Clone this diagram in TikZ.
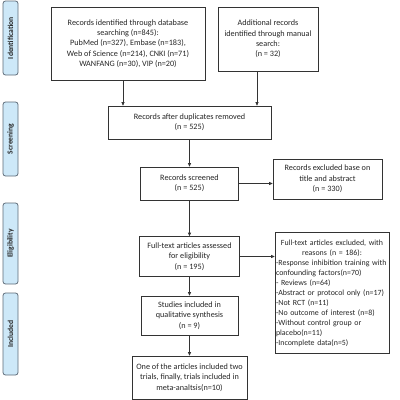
\documentclass[tikz,border=0pt]{standalone}
\usepackage{fontspec}
\setmainfont{Carlito}
\usetikzlibrary{arrows.meta}
\definecolor{sidefill}{HTML}{CDE8F8}
\definecolor{sidedraw}{HTML}{5E6B78}
\definecolor{linec}{HTML}{333333}
\begin{document}
\begin{tikzpicture}[x=1pt,y=-1pt,
  box/.style={draw=linec,line width=0.6pt,fill=white,inner sep=1pt,align=center,font=\fontsize{8.2}{10.3}\selectfont,text=black!85},
  side/.style={draw=sidedraw,fill=sidefill,rounded corners=2.5pt,line width=0.8pt},
  sidetext/.style={rotate=90,font=\bfseries\fontsize{7.6}{8}\selectfont,text=black!85},
  arr/.style={-{Triangle[length=3.5pt,width=3pt]},draw=linec,line width=0.6pt}]
\useasboundingbox (0,0) rectangle (400,400);
% side labels
\draw[side] (3,1) rectangle (18,75);
\node[sidetext] (sid) at (10.5,38) {Identification};
\draw[side] (3,102) rectangle (18,176);
\node[sidetext] (sscr) at (10.5,139) {Screening};
\draw[side] (3,203) rectangle (18,284);
\node[sidetext] (selig) at (10.5,243.5) {Eligibility};
\draw[side] (3,293) rectangle (18,375);
\node[sidetext] (sinc) at (10.5,334) {Included};
% boxes
\node[box,minimum width=154pt,minimum height=73pt] (b1) at (128,43.5)
  {Records identified through database\\searching (n=845):\\PubMed (n=327), Embase (n=183),\\Web of Science (n=214), CNKI (n=71)\\WANFANG (n=30), VIP (n=20)};
\node[box,minimum width=100pt,minimum height=64pt] (b2) at (268,39)
  {Additional records\\identified through manual\\search:\\(n = 32)};
\node[box,minimum width=163pt,minimum height=33pt] (b3) at (189.5,122.5)
  {Records after duplicates removed\\(n = 525)};
\node[box,minimum width=98pt,minimum height=33pt] (b4) at (189.5,183.5)
  {Records screened\\(n = 525)};
\node[box,minimum width=109pt,minimum height=40pt] (b5) at (327.5,179)
  {Records excluded base on\\title and abstract\\(n = 330)};
\node[box,minimum width=100pt,minimum height=40pt] (b6) at (189.5,256.5)
  {Full-text articles assessed\\for eligibility\\(n = 195)};
\node[box,minimum width=114pt,minimum height=121pt,align=left,text width=112pt,inner sep=1pt,font=\fontsize{7.9}{10}\selectfont] (b7) at (332,293)
  {\centering Full-text articles excluded, with\\reasons (n = 186):\par
   \raggedright -Response inhibition training with\\confounding factors(n=70)\\
   - Reviews (n=64)\\-Abstract or protocol only (n=17)\\-Not RCT (n=11)\\-No outcome of interest (n=8)\\-Without control group or\\placebo(n=11)\\-Incomplete data(n=5)\par};
\node[box,minimum width=97pt,minimum height=39pt] (b8) at (189.5,315.5)
  {Studies included in\\qualitative synthesis\\(n = 9)};
\node[box,minimum width=115pt,minimum height=43pt] (b9) at (189.5,377.5)
  {One of the articles included two\\trials, finally, trials included in\\meta-analtsis(n=10)};
% arrows
\coordinate (c1) at (123,80);
\coordinate (c2) at (257,71);
\draw[arr] (c1) -- (c1 |- b3.north);
\draw[arr] (c2) -- (c2 |- b3.north);
\draw[arr] (b3) -- (b4);
\draw[arr] (b4.east) -- (b4.east -| b5.west);
\draw[arr] (b4) -- (b6);
\draw[arr] (b6) -- (b6 -| b7.west);
\draw[arr] (b6) -- (b8);
\draw[arr] (b8) -- (b9);
\end{tikzpicture}
\end{document}
